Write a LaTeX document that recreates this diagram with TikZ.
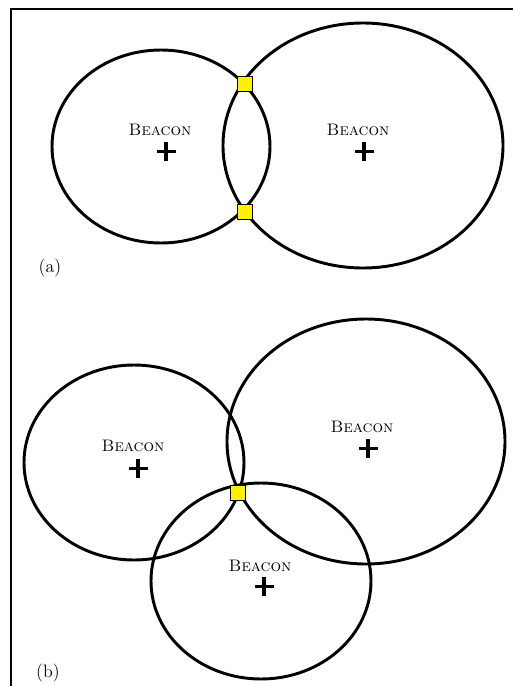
\documentclass[tikz,border=0pt]{standalone}
\usepackage{tikz}
\usetikzlibrary{positioning}

\begin{document}
\begin{tikzpicture}[
    x=0.75pt, y=-0.75pt,
    rangering/.style={draw=black, line width=2.2pt},
    fixpoint/.style={rectangle, draw=black, fill=yellow, line width=0.5pt, minimum size=11pt, inner sep=0pt},
    beaconlabel/.style={font=\fontsize{12.5}{14}\selectfont\scshape, inner sep=0pt},
    beaconmark/.style={line width=2.8pt},
    panellabel/.style={font=\fontsize{13.5}{16}\selectfont, inner sep=0pt}
]
\useasboundingbox (0,0) rectangle (513,686);

% frame edges
\draw[line width=1.5pt] (11,686) -- (11,9) -- (513,9);

% ==============================================================================
% PANEL (a): TWO BEACONS
% ==============================================================================
\coordinate (a1) at (161,146.5);
\coordinate (a2) at (363,145.5);

\draw[rangering] (a1) ellipse [x radius=109, y radius=96.5];
\draw[rangering] (a2) ellipse [x radius=140, y radius=122.5];

\node[beaconlabel] (la1) at (160,130) {Beacon};
\node[beaconlabel] (la2) at (358,130) {Beacon};
\draw[beaconmark] (166,142) -- (166,161) (157,151.5) -- (176,151.5);
\draw[beaconmark] (364,142) -- (364,161) (355,151.5) -- (374,151.5);

\node[fixpoint] (pa1) at (245,84) {};
\node[fixpoint] (pa2) at (245,212) {};

\node[panellabel] (capa) at (50,268) {(a)};

% ==============================================================================
% PANEL (b): THREE BEACONS
% ==============================================================================
\coordinate (b1) at (134,462.5);
\coordinate (b2) at (366,441.5);
\coordinate (b3) at (261,581);

\draw[rangering] (b1) ellipse [x radius=110, y radius=97.5];
\draw[rangering] (b2) ellipse [x radius=139, y radius=122.5];
\draw[rangering] (b3) ellipse [x radius=110, y radius=98];

\node[beaconlabel] (lb1) at (133,446) {Beacon};
\node[beaconlabel] (lb2) at (362,427) {Beacon};
\node[beaconlabel] (lb3) at (260,566) {Beacon};
\draw[beaconmark] (138,459) -- (138,478) (129,468.5) -- (148,468.5);
\draw[beaconmark] (368,439) -- (368,458) (359,448.5) -- (378,448.5);
\draw[beaconmark] (264,577) -- (264,596) (255,586.5) -- (274,586.5);

\node[fixpoint] (pb) at (238,493) {};

\node[panellabel] (capb) at (48,673) {(b)};

\end{tikzpicture}
\end{document}
